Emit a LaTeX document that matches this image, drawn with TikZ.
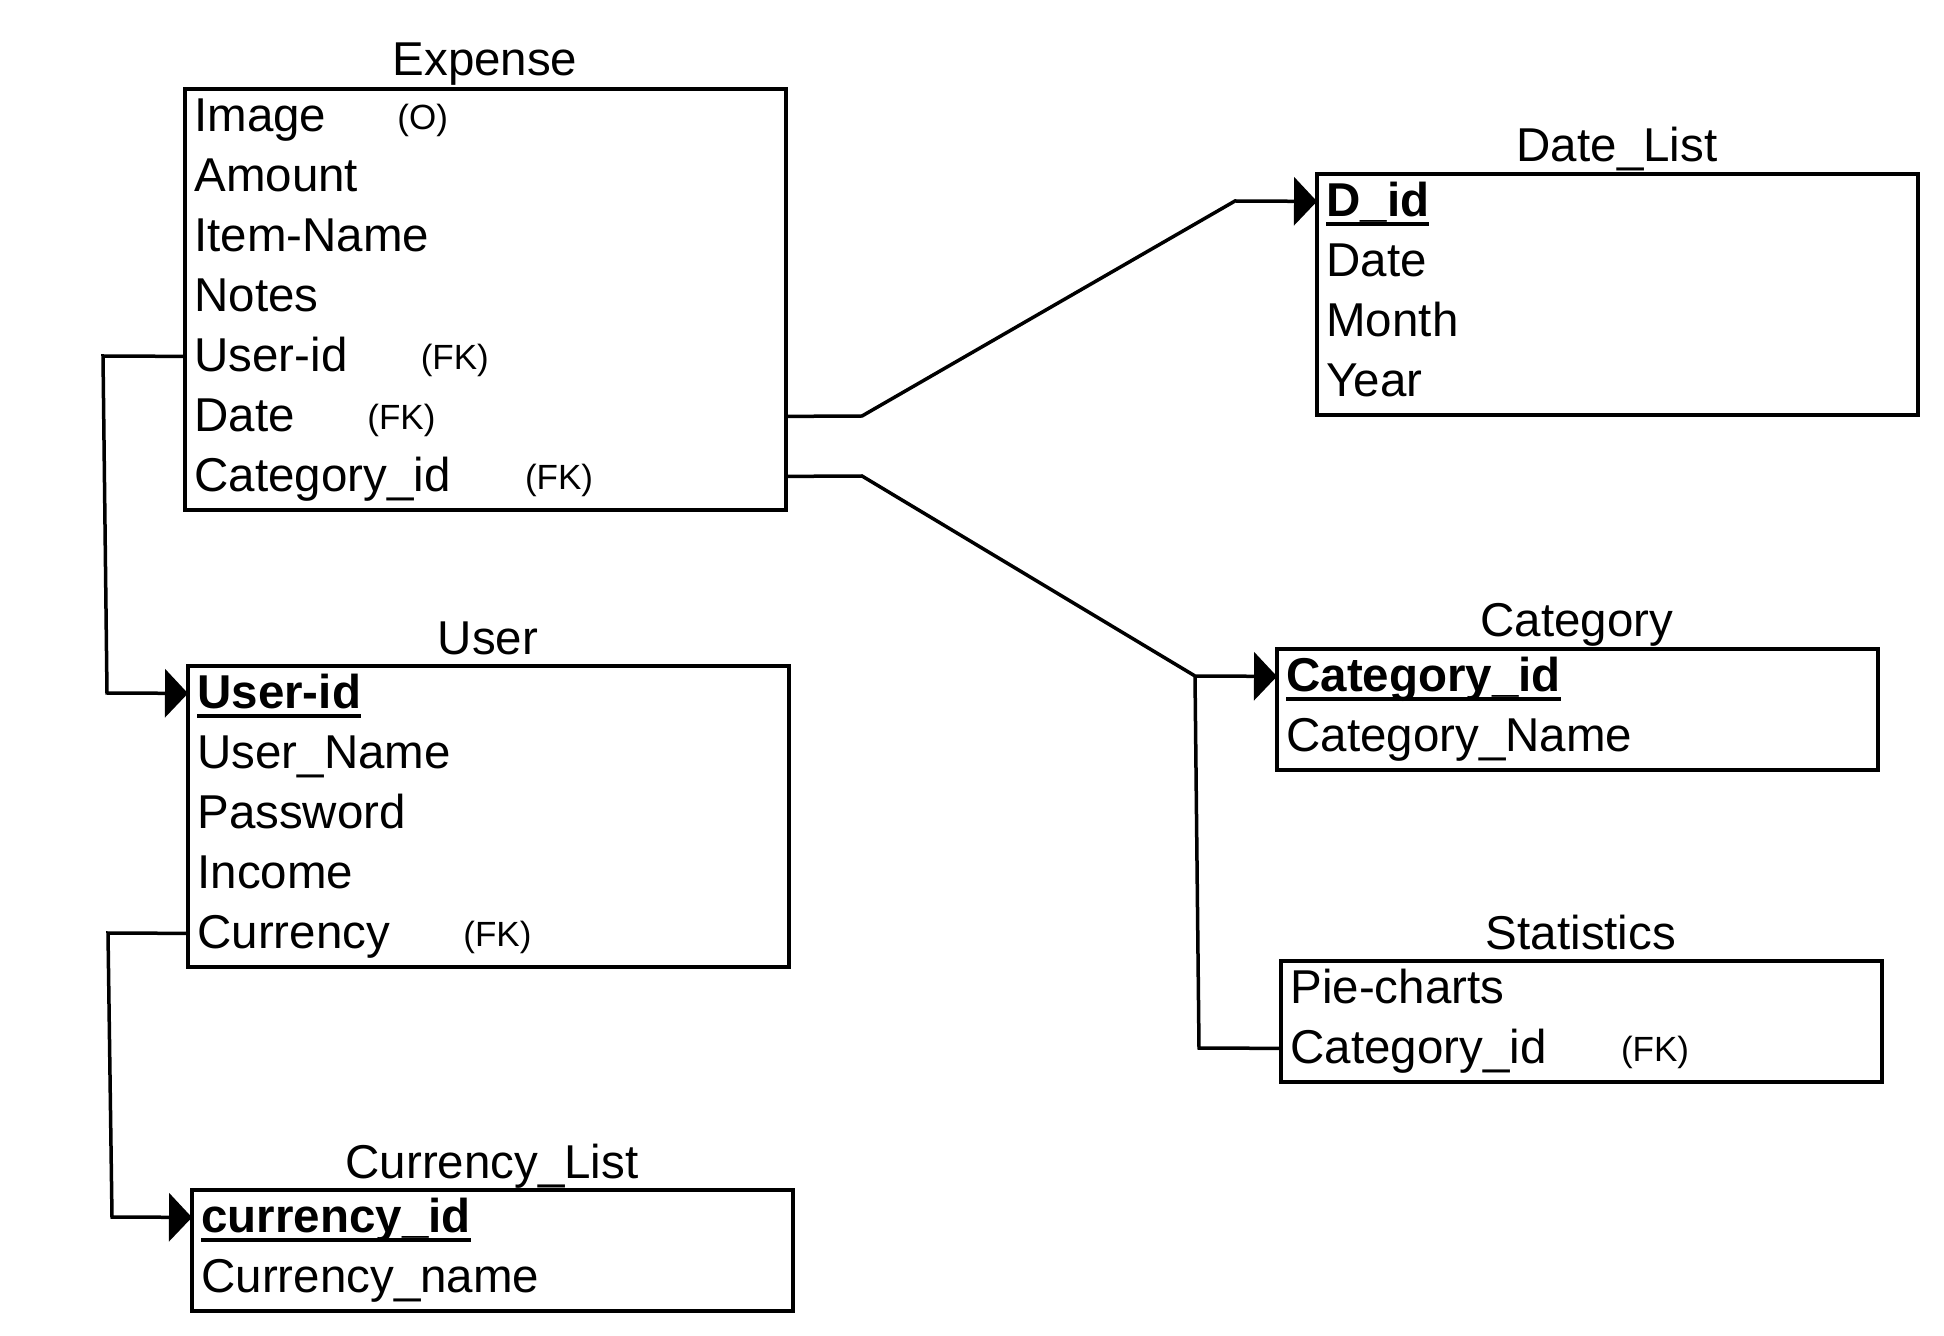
\documentclass[tikz,border=0pt]{standalone}
\usepackage{fontspec}
\setmainfont{Liberation Sans}
\usetikzlibrary{arrows.meta,fit}
\newcommand\fmain{\fontsize{23.75pt}{28pt}\selectfont}
\newcommand\fsm{\fontsize{17.5pt}{20pt}\selectfont}
\newcommand\pkey[1]{\setbox0\hbox{\bfseries #1}\leavevmode\rlap{\rule[-4.75pt]{\wd0}{2pt}}\box0}
\newcommand\fkat[3]{\makebox[#1][l]{#2}\raisebox{0.8pt}{\fsm#3}}
\begin{document}
\begin{tikzpicture}[x=0.5pt,y=-0.5pt,
  erow/.style={text width=291pt, align=left, inner xsep=4.5pt, inner ysep=0pt,
    minimum height=30pt, text height=17pt, text depth=5pt, anchor=north west, font=\fmain},
  etitle/.style={anchor=base, inner sep=0pt, font=\fmain},
  ebox/.style={draw, line width=1.75pt, inner sep=0pt},
  link/.style={line width=1.75pt},
  arr/.style={-{Triangle[length=11.5pt,width=24pt]}}]
\useasboundingbox[fill=white] (0,0) rectangle (1944,1336);

% ---- Expense ----
\node[etitle] (expt) at (485,76) {Expense};
\node[erow] (e1) at (185,89)  {\fkat{101.5pt}{Image}{(O)}};
\node[erow] (e2) at (185,149) {Amount};
\node[erow] (e3) at (185,209) {Item-Name};
\node[erow] (e4) at (185,269) {Notes};
\node[erow] (e5) at (185,329) {\fkat{113.2pt}{User-id}{(FK)}};
\node[erow] (e6) at (185,389) {\fkat{86.5pt}{Date}{(FK)}};
\node[erow] (e7) at (185,449) {\fkat{165.3pt}{Category\_id}{(FK)}};
\node[ebox, fit=(e1)(e7)] (expense) {};

% ---- Date_List ----
\node[etitle] (dlt) at (1617,162) {Date\_List};
\node[erow] (d1) at (1317,174) {\pkey{D\_id}};
\node[erow] (d2) at (1317,234) {Date};
\node[erow] (d3) at (1317,294) {Month};
\node[erow] (d4) at (1317,354) {Year};
\node[ebox, fit=(d1)(d4)] (datelist) {};

% ---- User ----
\node[etitle] (ust) at (488,654) {User};
\node[erow] (u1) at (188,666) {\pkey{User-id}};
\node[erow] (u2) at (188,726) {User\_Name};
\node[erow] (u3) at (188,786) {Password};
\node[erow] (u4) at (188,846) {Income};
\node[erow] (u5) at (188,906) {\fkat{133pt}{Currency}{(FK)}};
\node[ebox, fit=(u1)(u5)] (user) {};

% ---- Category ----
\node[etitle] (catt) at (1577,637) {Category};
\node[erow] (c1) at (1277,649) {\pkey{Category\_id}};
\node[erow] (c2) at (1277,709) {Category\_Name};
\node[ebox, fit=(c1)(c2)] (category) {};

% ---- Statistics ----
\node[etitle] (stt) at (1581,949) {Statistics};
\node[erow] (s1) at (1281,961)  {Pie-charts};
\node[erow] (s2) at (1281,1021) {\fkat{165.3pt}{Category\_id}{(FK)}};
\node[ebox, fit=(s1)(s2)] (statistics) {};

% ---- Currency_List ----
\node[etitle] (clt) at (492,1178) {Currency\_List};
\node[erow] (l1) at (192,1190) {\pkey{currency\_id}};
\node[erow] (l2) at (192,1250) {Currency\_name};
\node[ebox, fit=(l1)(l2)] (currencylist) {};

% ---- bend points ----
\coordinate (k1) at (103,356);
\coordinate (k2) at (107,693);
\coordinate (k3) at (862,416);
\coordinate (k4) at (1235,201);
\coordinate (k5) at (862,476);
\coordinate (k6) at (1195,676);
\coordinate (k7) at (1199,1048);
\coordinate (k8) at (108,933);
\coordinate (k9) at (112,1217);

% ---- connectors ----
\draw[link,arr] ([yshift=1.5pt]e5.west) -- (k1) -- (k2) -- ([yshift=1.5pt]u1.west);
\draw[link,arr] ([yshift=1.5pt]e6.east) -- (k3) -- (k4) -- ([yshift=1.5pt]d1.west);
\draw[link,arr] ([yshift=1.5pt]e7.east) -- (k5) -- (k6) -- ([yshift=1.5pt]c1.west);
\draw[link] (k6) -- (k7) -- ([yshift=1.5pt]s2.west);
\draw[link,arr] ([yshift=1.5pt]u5.west) -- (k8) -- (k9) -- ([yshift=1.5pt]l1.west);
\end{tikzpicture}
\end{document}
